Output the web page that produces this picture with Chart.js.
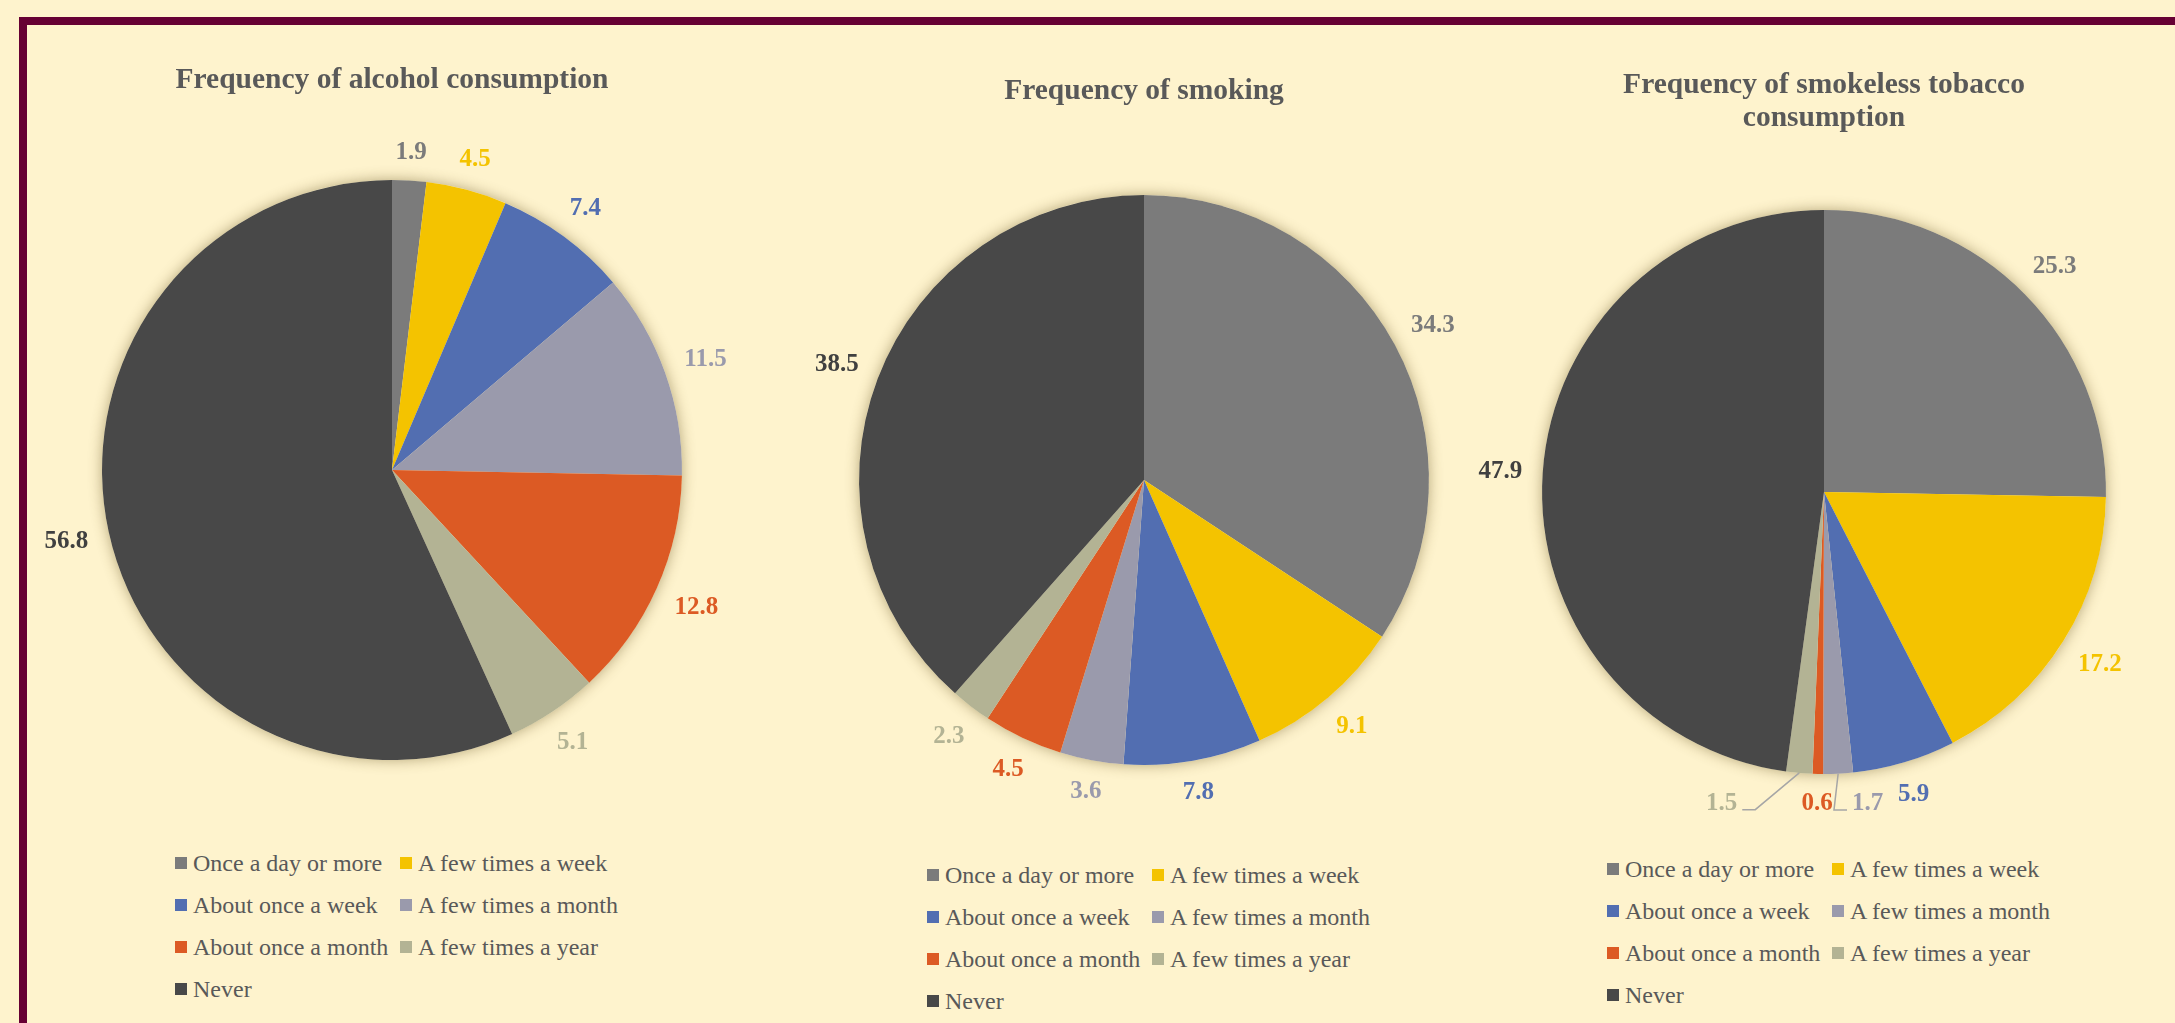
<!DOCTYPE html>
<html>
<head>
<meta charset="utf-8">
<title>Frequency of alcohol, smoking and smokeless tobacco consumption</title>
<script src="https://cdn.jsdelivr.net/npm/chart.js@4.4.1/dist/chart.umd.min.js"></script>
<style>
    html, body { margin: 0; padding: 0; }
    body {
        width: 2175px; height: 1023px; position: relative; overflow: hidden;
        background: #fef3cd;
        font-family: "Liberation Serif", "Times New Roman", serif;
    }
    .frame {
        position: absolute; left: 19px; top: 17px; width: 2300px; height: 1200px;
        border: 8px solid #660033; box-sizing: border-box;
    }
    .chart-box { position: absolute; top: 0; width: 720px; height: 830px; }
    .legend {
        position: absolute; display: grid; grid-template-columns: 225px 225px;
        color: #595959; font-size: 24px;
    }
    .legend-item { display: flex; align-items: center; height: 42px; white-space: nowrap; }
    .legend-item i { display: inline-block; width: 12px; height: 12px; margin-right: 6px; }
</style>
</head>
<body>
<div class="frame"></div>

<script>
// Categories and colours (same order in all three pies)
const categories = ['Once a day or more', 'A few times a week', 'About once a week',
    'A few times a month', 'About once a month', 'A few times a year', 'Never'];
const sliceColors = ['#7b7b7b', '#f4c300', '#526eb1', '#9a9aac', '#dc5a24', '#b3b394', '#484848'];
const labelColors = ['#7b7b7b', '#f4c300', '#526eb1', '#9a9aac', '#dc5a24', '#b3b394', '#404040'];

// Percentages
const alcoholValues = [1.9, 4.5, 7.4, 11.5, 12.8, 5.1, 56.8];
const smokingValues = [34.3, 9.1, 7.8, 3.6, 4.5, 2.3, 38.5];
const smokelessValues = [25.3, 17.2, 5.9, 1.7, 0.6, 1.5, 47.9];

const chartTitles = [
    'Frequency of alcohol consumption',
    'Frequency of smoking',
    ['Frequency of smokeless tobacco', 'consumption']
];

const FONT = '"Liberation Serif", "Times New Roman", serif';
const BOX_W = 720, BOX_H = 830, TITLE_LINE = 33;

// placement of each pie on the page (centre, radius, title middle, legend top)
const panels = [
    { values: alcoholValues, title: chartTitles[0], cx: 392, cy: 470, r: 290, titleMid: 80, legendTop: 842, nudge: {} },
    { values: smokingValues, title: chartTitles[1], cx: 1144, cy: 480, r: 285, titleMid: 91, legendTop: 854, nudge: {} },
    { values: smokelessValues, title: chartTitles[2], cx: 1824, cy: 492, r: 282, titleMid: 85, legendTop: 848, nudge: { 3: 28, 5: -75 } }
];

// soft shadow behind the pie
const pieShadow = {
    id: 'pieShadow',
    beforeDatasetsDraw(chart) {
        const arc = chart.getDatasetMeta(0).data[0];
        if (!arc) return;
        const { x, y, outerRadius } = arc.getProps(['x', 'y', 'outerRadius'], true);
        const ctx = chart.ctx;
        ctx.save();
        ctx.shadowColor = 'rgba(90, 70, 20, 0.45)';
        ctx.shadowBlur = 14;
        ctx.fillStyle = '#fef3cd';
        ctx.beginPath();
        ctx.arc(x, y, outerRadius, 0, Math.PI * 2);
        ctx.fill();
        ctx.restore();
    }
};

// value labels outside the slices, with leader lines for nudged ones
const outsideLabels = {
    id: 'outsideLabels',
    afterDatasetsDraw(chart, args, opts) {
        const ctx = chart.ctx;
        const values = chart.data.datasets[0].data;
        ctx.save();
        ctx.font = 'bold 25px ' + FONT;
        ctx.textAlign = 'center';
        ctx.textBaseline = 'middle';
        chart.getDatasetMeta(0).data.forEach((arc, i) => {
            const p = arc.getProps(['x', 'y', 'startAngle', 'endAngle', 'outerRadius'], true);
            const mid = (p.startAngle + p.endAngle) / 2;
            const text = values[i].toFixed(1);
            const w = ctx.measureText(text).width, h = 17;
            const cos = Math.cos(mid), sin = Math.sin(mid);
            const d = p.outerRadius + opts.gap + Math.abs(cos) * w / 2 + Math.abs(sin) * h / 2;
            let lx = p.x + d * cos;
            const ly = p.y + d * sin;
            const shift = opts.nudge[i];
            if (shift) {
                lx += shift;
                const ex = p.x + p.outerRadius * cos, ey = p.y + p.outerRadius * sin;
                const s = Math.sign(ex - lx);
                const ax = lx + s * (w / 2 + 5), ay = ly + 7;
                ctx.strokeStyle = '#a6a6a6';
                ctx.lineWidth = 1.5;
                ctx.beginPath();
                ctx.moveTo(ex, ey);
                ctx.lineTo(ax + s * 13, ay);
                ctx.lineTo(ax, ay);
                ctx.stroke();
            }
            ctx.fillStyle = labelColors[i];
            ctx.fillText(text, lx, ly + 1);
        });
        ctx.restore();
    }
};

panels.forEach(panel => {
    const box = document.createElement('div');
    box.className = 'chart-box';
    box.style.left = (panel.cx - BOX_W / 2) + 'px';
    const canvas = document.createElement('canvas');
    canvas.width = BOX_W;
    canvas.height = BOX_H;
    box.appendChild(canvas);
    document.body.appendChild(box);

    const lines = Array.isArray(panel.title) ? panel.title.length : 1;
    const padTop = panel.titleMid - TITLE_LINE / 2;
    const padBottom = panel.cy - panel.r - padTop - lines * TITLE_LINE;
    const side = BOX_W / 2 - panel.r;

    new Chart(canvas, {
        type: 'pie',
        data: {
            labels: categories,
            datasets: [{ data: panel.values, backgroundColor: sliceColors, borderWidth: 0, hoverOffset: 0 }]
        },
        options: {
            responsive: false,
            animation: false,
            layout: { padding: { left: side, right: side, top: 0, bottom: BOX_H - panel.cy - panel.r } },
            plugins: {
                legend: { display: false },
                tooltip: { enabled: false },
                title: {
                    display: true,
                    text: panel.title,
                    color: '#595959',
                    font: { family: FONT, size: 29.5, weight: 'bold', lineHeight: 1.12 },
                    padding: { top: padTop, bottom: padBottom }
                },
                outsideLabels: { gap: 20, nudge: panel.nudge }
            }
        },
        plugins: [pieShadow, outsideLabels]
    });

    // legend in two aligned columns
    const legend = document.createElement('div');
    legend.className = 'legend';
    legend.style.left = (panel.cx - 217) + 'px';
    legend.style.top = panel.legendTop + 'px';
    legend.innerHTML = categories.map((name, i) =>
        `<div class="legend-item"><i style="background:${sliceColors[i]}"></i>${name}</div>`).join('');
    document.body.appendChild(legend);
});
</script>
</body>
</html>
